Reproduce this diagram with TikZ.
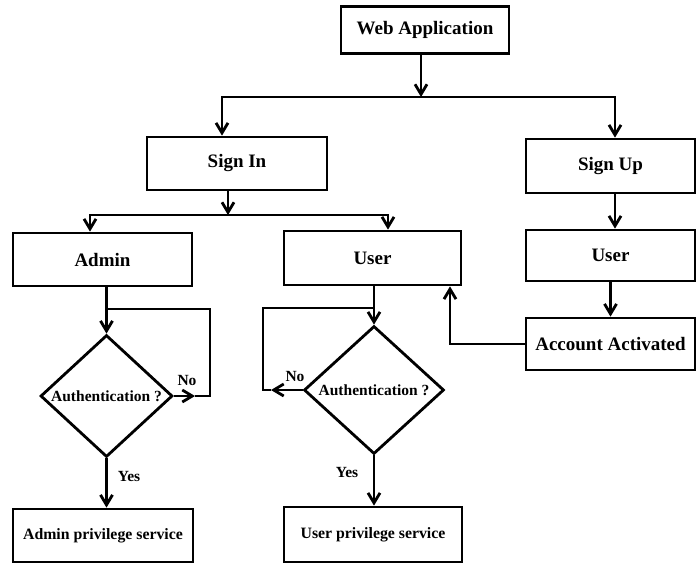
\documentclass[tikz,border=0pt]{standalone}
\usepackage{fontspec}
\setmainfont{Liberation Serif}
\usetikzlibrary{shapes.geometric, arrows.meta}

\begin{document}
\begin{tikzpicture}[x=1pt, y=-1pt, line width=2.8pt,
                >={Straight Barb[length=10pt,width=12pt]},
                box/.style={draw, rectangle, align=center, inner sep=2pt, font=\bfseries\fontsize{19}{22}\selectfont},
                smallbox/.style={box, font=\bfseries\fontsize{15.8}{18}\selectfont},
                decision/.style={draw, diamond, inner sep=0pt, font=\bfseries\fontsize{15.5}{18}\selectfont},
                tag/.style={inner sep=1pt, font=\bfseries\fontsize{15.5}{18}\selectfont}]
                \useasboundingbox (0,0) rectangle (697,563);
                \node[box, minimum width=168pt, minimum height=47pt] (web)    at (425,30)    {Web Application};
                \node[box, minimum width=180pt, minimum height=53pt] (signin) at (237,163.5) {Sign In};
                \node[box, minimum width=169pt, minimum height=54pt] (signup) at (610.5,166) {Sign Up};
                \node[box, minimum width=179pt, minimum height=53pt] (admin)  at (102.5,259.5) {Admin};
                \node[box, minimum width=177pt, minimum height=54pt] (user)   at (372.5,258) {User};
                \node[box, minimum width=169pt, minimum height=51pt] (ruser)  at (610.5,255.5) {User};
                \node[box, minimum width=169pt, minimum height=52pt] (acct)   at (610.5,344) {Account Activated};
                \node[decision, minimum width=132pt, minimum height=122pt] (adec) at (106.5,396) {Authentication ?};
                \node[decision, minimum width=140pt, minimum height=128pt] (udec) at (374,390)   {Authentication ?};
                \node[smallbox, minimum width=180pt, minimum height=53pt] (aserv) at (103,535.5) {Admin privilege service};
                \node[smallbox, minimum width=178pt, minimum height=55pt] (userv) at (373,534.5) {User privilege service};
                \node[tag] (ano)  at (187,380) {No};
                \node[tag] (uno)  at (295,376) {No};
                \node[tag] (ayes) at (129,476) {Yes};
                \node[tag] (uyes) at (347,472) {Yes};
                \coordinate (top)   at (421,97);
                \coordinate (topl)  at (222,97);
                \coordinate (topr)  at (615,97);
                \coordinate (mid)   at (228,215);
                \coordinate (midl)  at (90,215);
                \coordinate (midr)  at (388,215);
                \coordinate (aback) at (210,309);
                \coordinate (atip)  at (195,396);
                \coordinate (uback) at (263,308);
                \coordinate (utip)  at (271,390);
                \coordinate (bend)  at (450,347);
                \draw[->] (web.south -| top) -- (top);
                \draw[<->] (signin.north -| topl) |- (topr) -- (signup.north -| topr);
                \draw[->] (signin.south -| mid) -- (mid);
                \draw[<->] (admin.north -| midl) |- (midr) -- (user.north -| midr);
                \draw[->] (admin.south -| adec) -- (adec.north);
                \draw[->] (adec.east) -- (atip);
                \draw (atip) -- (atip -| aback) -- (aback) -- (aback -| adec);
                \draw[->] (adec.south) -- (aserv.north -| adec);
                \draw[->] (user.south -| udec) -- (udec.north);
                \draw[->] (udec.west) -- (utip);
                \draw (utip) -- (utip -| uback) -- (uback) -- (uback -| udec);
                \draw[->] (udec.south) -- (userv.north -| udec);
                \draw[->] (signup.south -| topr) -- (ruser.north -| topr);
                \draw[->] (ruser) -- (acct);
                \draw[->] (acct.west) -- (acct.west -| bend) -- (user.south -| bend);
            \end{tikzpicture}
\end{document}
